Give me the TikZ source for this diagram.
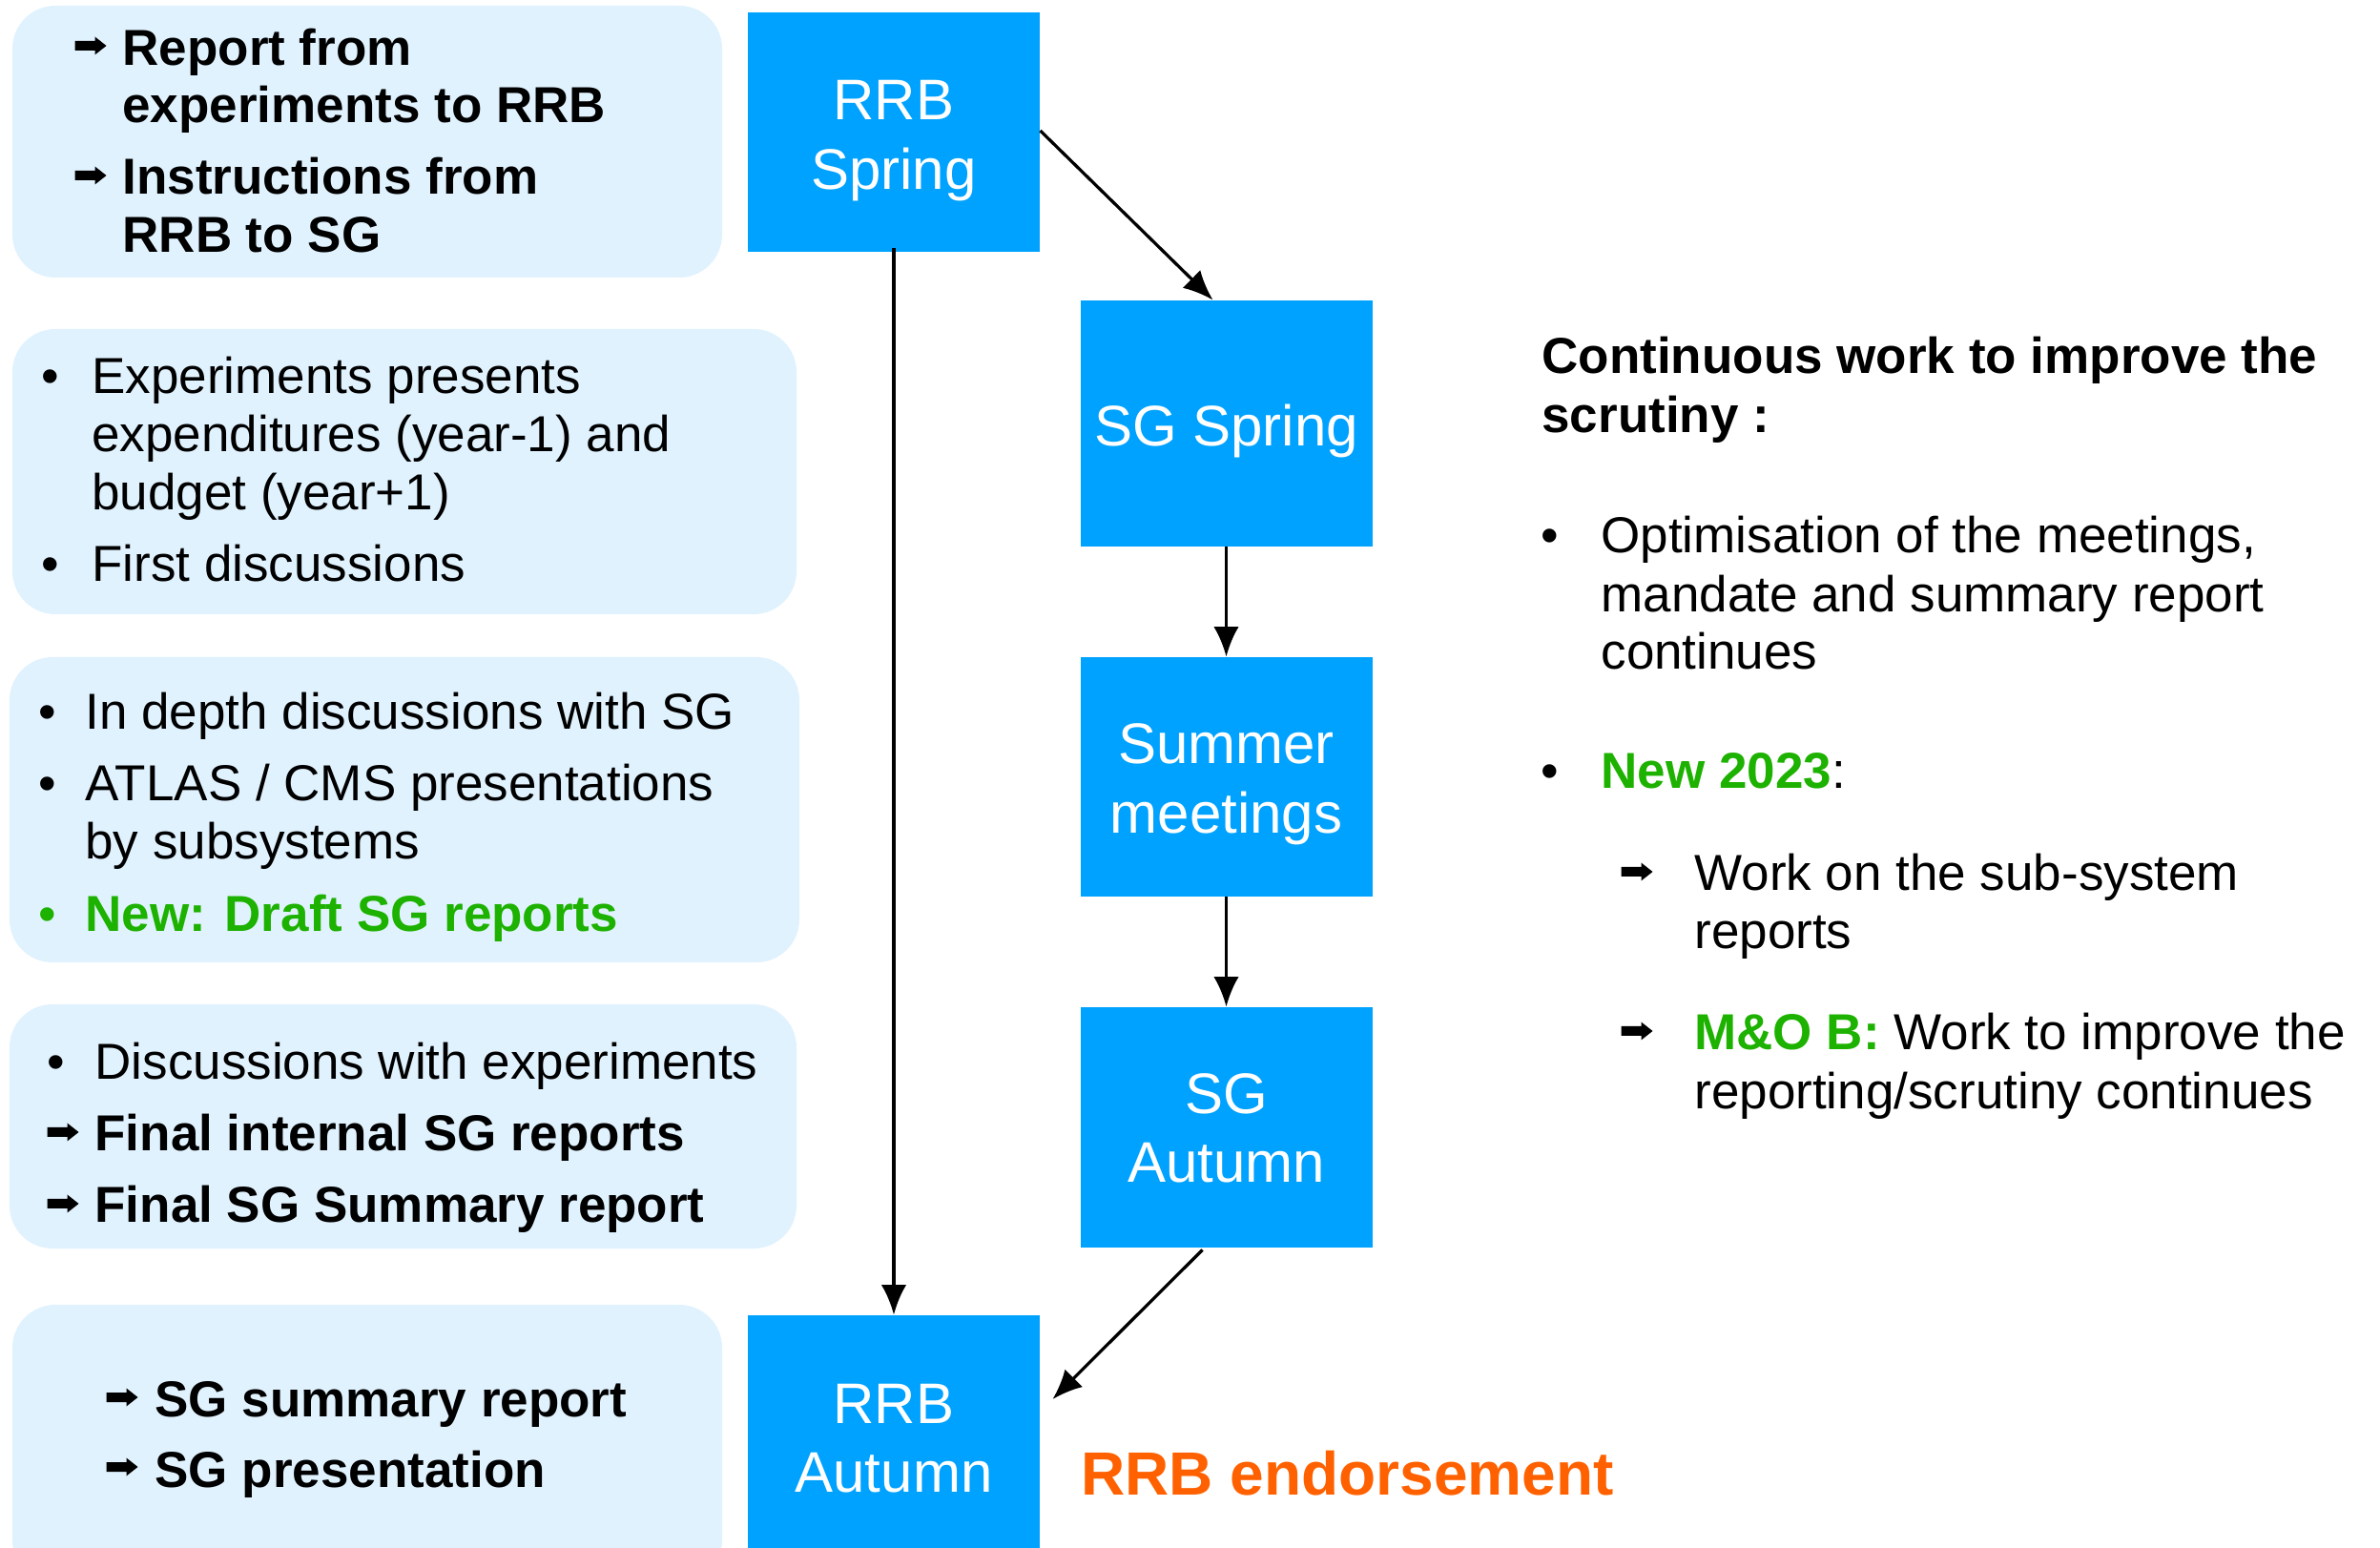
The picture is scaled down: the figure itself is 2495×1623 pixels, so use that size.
\documentclass[tikz,border=0pt]{standalone}
\usepackage{fontspec}
\setmainfont{Liberation Sans}
\usetikzlibrary{arrows.meta,calc}
\definecolor{nodeblue}{HTML}{00A2FF}
\definecolor{lightbox}{HTML}{E0F2FE}
\definecolor{newgreen}{HTML}{1DB100}
\definecolor{endorse}{HTML}{FF6100}
\begin{document}
\begin{tikzpicture}[x=0.4pt,y=-0.4pt,
  stage/.style={fill=nodeblue, draw=none, inner sep=0pt, minimum width=122.4pt},
  stagetext/.style={text=white, inner sep=0pt, align=center,
    font=\fontsize{24}{29}\selectfont},
  lbox/.style={fill=lightbox, draw=none, rounded corners=18pt, inner sep=0pt},
  txt/.style={anchor=base west, inner sep=0pt, font=\fontsize{21.2}{25}\selectfont},
  btxt/.style={anchor=base west, inner sep=0pt, font=\fontsize{21.2}{25}\selectfont\bfseries},
  fatarrow/.pic={\fill[black] (-16.5,-5) -- (4.5,-5) -- (4.5,-9.5) -- (16.5,0)
      -- (4.5,9.5) -- (4.5,5) -- (-16.5,5) -- cycle;},
  bul/.style={anchor=base, inner sep=0pt, font=\fontsize{21.2}{25}\selectfont},
  flow/.style={line width=1.3pt, -{Latex[length=12.5pt,width=10.5pt]}}
]
\useasboundingbox (0,0) rectangle (2495,1623);

% light boxes
\node[lbox, minimum width=297.6pt, minimum height=114pt] (b1) at (385,148.5) {};
\node[lbox, minimum width=328.8pt, minimum height=119.6pt] (b2) at (424,494.5) {};
\node[lbox, minimum width=331.2pt, minimum height=128pt] (b3) at (424,849) {};
\node[lbox, minimum width=330pt, minimum height=102.4pt] (b4) at (422.5,1181) {};
\node[lbox, minimum width=297.6pt, minimum height=116.8pt] (b5) at (385,1514) {};

% stage boxes
\node[stage, minimum height=100.4pt] (rrbs) at (937,138.5) {};
\node[stage, minimum height=103.2pt] (sgs) at (1285.5,444) {};
\node[stage, minimum height=100.4pt] (sum) at (1285.5,814.5) {};
\node[stage, minimum height=100.8pt] (sga) at (1285.5,1182) {};
\node[stage, minimum height=97.6pt] (rrba) at (937,1501) {};
\node[stagetext] (rrbs-t) at ($(rrbs.center)+(0,9)$) {RRB\\Spring};
\node[stagetext] (sgs-t) at ($(sgs.center)+(0,8)$) {SG Spring};
\node[stagetext] (sum-t) at ($(sum.center)+(0,8)$) {Summer\\meetings};
\node[stagetext] (sga-t) at ($(sga.center)+(0,1)$) {SG\\Autumn};
\node[stagetext] (rrba-t) at ($(rrba.center)+(0,7)$) {RRB\\Autumn};

% connectors
\draw[flow] ($(rrbs.east)+(0,-1.5)$) -- ($(sgs.north)+(-14,0)$);
\draw[flow] ($(rrbs.south)+(0,-4)$) -- (rrba.north);
\draw[flow] (sgs.south) -- (sum.north);
\draw[flow] (sum.south) -- (sga.north);
\draw[flow] ($(sga.south)+(-25,2)$) -- ($(rrba.east)+(13,-34)$);

% box 1
\pic (a1a) at (95,48) {fatarrow};
\node[btxt] (t1a) at (128,69) {Report from};
\node[btxt] (t1b) at (128,129) {experiments to RRB};
\pic (a1b) at (95,184) {fatarrow};
\node[btxt] (t1c) at (128,204) {Instructions from};
\node[btxt] (t1d) at (128,265) {RRB to SG};

% box 2
\node[bul] (u2a) at (53,413) {•};
\node[txt] (t2a) at (96,413) {Experiments presents};
\node[txt] (t2b) at (96,474) {expenditures (year-1) and};
\node[txt] (t2c) at (96,535) {budget (year+1)};
\node[bul] (u2b) at (53,610) {•};
\node[txt] (t2d) at (96,610) {First discussions};

% box 3
\node[bul] (u3a) at (50,765) {•};
\node[txt] (t3a) at (89,765) {In depth discussions with SG};
\node[bul] (u3b) at (50,840) {•};
\node[txt] (t3b) at (89,840) {ATLAS / CMS presentations};
\node[txt] (t3c) at (89,901) {by subsystems};
\node[bul, text=newgreen] (u3c) at (50,977) {•};
\node[btxt, text=newgreen] (t3d) at (89,977) {New: Draft SG reports};

% box 4
\node[bul] (u4a) at (59,1132) {•};
\node[txt] (t4a) at (99,1132) {Discussions with experiments};
\pic (a4b) at (66,1187) {fatarrow};
\node[btxt] (t4b) at (99,1207) {Final internal SG reports};
\pic (a4c) at (66,1262) {fatarrow};
\node[btxt] (t4c) at (99,1282) {Final SG Summary report};

% box 5
\pic (a5a) at (128,1465) {fatarrow};
\node[btxt] (t5a) at (162,1485) {SG summary report};
\pic (a5b) at (128,1538) {fatarrow};
\node[btxt] (t5b) at (162,1559) {SG presentation};

% endorsement
\node[anchor=base west, inner sep=0pt, text=endorse, font=\fontsize{25.6}{30}\selectfont\bfseries] (endo) at (1133,1567) {RRB endorsement};

% right column
\node[btxt] (r1) at (1616,392) {Continuous work to improve the};
\node[btxt] (r2) at (1616,454) {scrutiny :};
\node[bul] (ru1) at (1625,580) {•};
\node[txt] (r3) at (1678,580) {Optimisation of the meetings,};
\node[txt] (r4) at (1678,642) {mandate and summary report};
\node[txt] (r5) at (1678,702) {continues};
\node[bul] (ru2) at (1625,827) {•};
\node[txt] (r6) at (1678,827) {\textcolor{newgreen}{\bfseries New 2023}:};
\pic (ra1) at (1716,914) {fatarrow};
\node[txt] (r7) at (1776,934) {Work on the sub-system};
\node[txt] (r8) at (1776,995) {reports};
\pic (ra2) at (1716,1081) {fatarrow};
\node[txt] (r9) at (1776,1101) {\textcolor{newgreen}{\bfseries M\&O B:} Work to improve the};
\node[txt] (r10) at (1776,1163) {reporting/scrutiny continues};
\end{tikzpicture}
\end{document}
